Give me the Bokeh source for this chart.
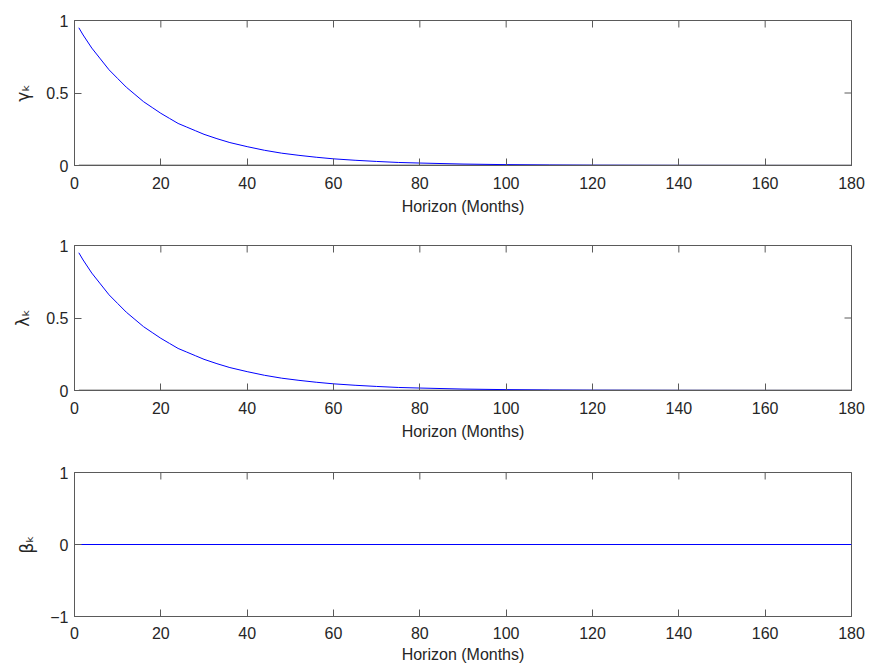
from bokeh.plotting import figure
from bokeh.layouts import column
from bokeh.models import FixedTicker, Range1d
from bokeh.embed import file_html
from bokeh.resources import INLINE
import math

# Horizons (months) at which the curves were read
horizon = [1, 2, 4, 6, 8, 10, 12, 14, 16, 18, 20, 22, 24, 26, 28, 30, 33, 36, 40, 44, 48, 52, 56, 60,
           65, 70, 75, 80, 90, 100, 110, 120, 140, 160, 180]
gamma_k = [0.95, 0.90, 0.81, 0.735, 0.66, 0.60, 0.54, 0.49, 0.44, 0.40, 0.36, 0.325, 0.29, 0.265, 0.24,
           0.215, 0.185, 0.158, 0.13, 0.105, 0.085, 0.07, 0.057, 0.046, 0.036, 0.028, 0.021, 0.017,
           0.010, 0.006, 0.0035, 0.002, 0.0008, 0.0003, 0.0001]
lambda_k = [0.95, 0.90, 0.81, 0.735, 0.66, 0.60, 0.54, 0.49, 0.44, 0.40, 0.36, 0.325, 0.29, 0.265, 0.24,
            0.215, 0.185, 0.158, 0.13, 0.105, 0.085, 0.07, 0.057, 0.046, 0.036, 0.028, 0.021, 0.017,
            0.010, 0.006, 0.0035, 0.002, 0.0008, 0.0003, 0.0001]
zero_line = [0.0] * len(horizon)
beta_horizon = [0, 180]
beta_k = [0.0, 0.0]

x_ticks = [0, 20, 40, 60, 80, 100, 120, 140, 160, 180]
FONT = "Liberation Sans"
AX = "#5a5a5a"
TXT = "#262626"
TICK = 7


def make_fig(ylabel, yr, yticks, top, fh, bottom, tick_standoff=11, label_standoff=6):
    p = figure(frame_width=777, frame_height=fh, output_backend="svg", toolbar_location=None,
               x_range=Range1d(0, 180), y_range=Range1d(*yr),
               min_border_left=74, min_border_right=19, min_border_top=top, min_border_bottom=bottom,
               x_axis_label="Horizon (Months)", y_axis_label=ylabel)
    p.grid.visible = False
    p.outline_line_color = AX
    p.outline_line_width = 1
    p.background_fill_color = "white"
    p.border_fill_color = "white"
    for ax in (p.xaxis[0], p.yaxis[0]):
        ax.axis_line_color = AX
        ax.major_tick_line_color = AX
        ax.major_tick_in = TICK
        ax.major_tick_out = 0
        ax.minor_tick_line_color = None
        ax.major_label_text_font = FONT
        ax.major_label_text_font_size = "16px"
        ax.major_label_text_color = TXT
        ax.axis_label_text_font = FONT
        ax.axis_label_text_font_size = "16px"
        ax.axis_label_text_font_style = "normal"
        ax.axis_label_text_color = TXT
    p.xaxis[0].ticker = FixedTicker(ticks=x_ticks)
    p.yaxis[0].ticker = FixedTicker(ticks=yticks)
    p.xaxis[0].major_label_standoff = tick_standoff
    p.xaxis[0].axis_label_standoff = label_standoff
    p.yaxis[0].major_label_standoff = 6
    p.yaxis[0].axis_label_standoff = 10
    p.yaxis[0].axis_label_text_font = "DejaVu Sans"
    p.yaxis[0].axis_label_text_font_size = "17px"
    # mirrored box ticks on top and right (clipped to the frame)
    p.scatter(x_ticks, [yr[1]] * len(x_ticks), marker="dash", angle=math.pi / 2, size=2 * TICK,
              line_color=AX, line_width=1)
    p.scatter([180] * len(yticks), yticks, marker="dash", angle=0, size=2 * TICK,
              line_color=AX, line_width=1)
    return p


p1 = make_fig("γₖ", (0, 1), [0, 0.5, 1], 20, 145, 57)
p1.yaxis[0].major_label_overrides = {0: "0", 0.5: "0.5", 1: "1"}
p1.line(horizon, zero_line, line_color="#1a1a1a", line_width=1.5)
p1.line(horizon, gamma_k, line_color="#0000ff", line_width=1)

p2 = make_fig("λₖ", (0, 1), [0, 0.5, 1], 23, 145, 57)
p2.yaxis[0].major_label_overrides = {0: "0", 0.5: "0.5", 1: "1"}
p2.line(horizon, zero_line, line_color="#1a1a1a", line_width=1.5)
p2.line(horizon, lambda_k, line_color="#0000ff", line_width=1)

p3 = make_fig("βₖ", (-1, 1), [-1, 0, 1], 25, 144, 53, tick_standoff=10, label_standoff=4)
p3.line(beta_horizon, beta_k, line_color="#0000ff", line_width=1)

layout = column(p1, p2, p3, spacing=0)
open("out.html", "w").write(file_html(layout, INLINE))
